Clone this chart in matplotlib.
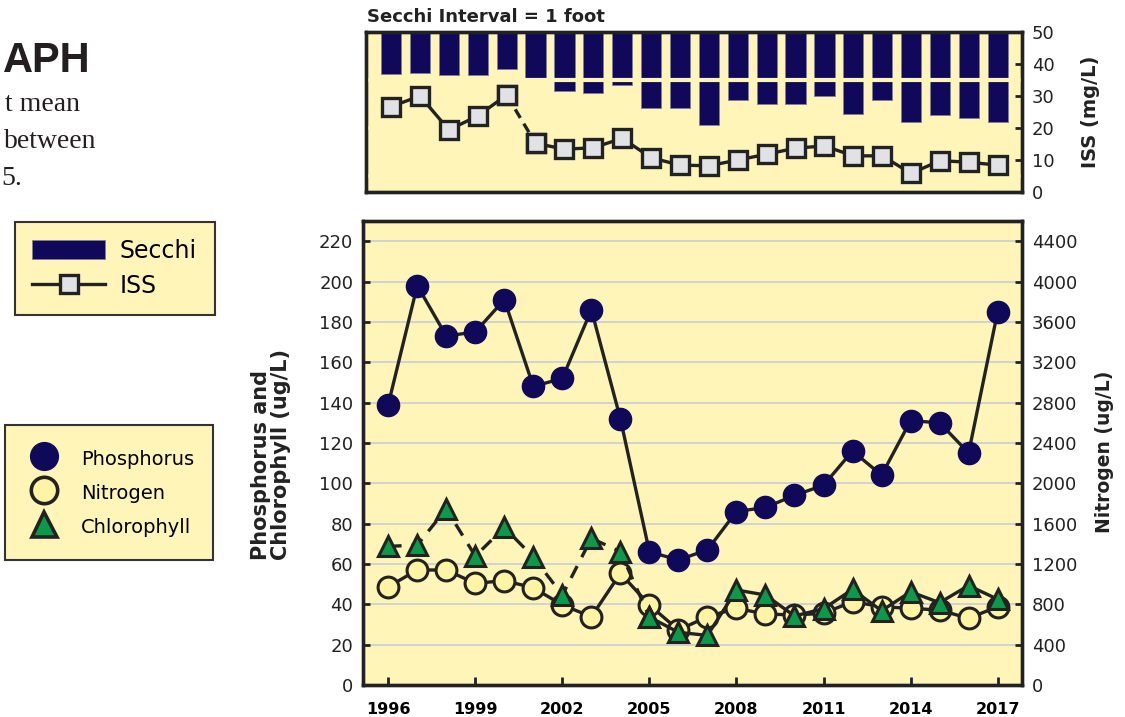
import numpy as np
import matplotlib.pyplot as plt
from matplotlib.lines import Line2D

# Datos
years = np.arange(1996, 2018)
secchi_ft = [0.88, 0.85, 0.90, 0.90, 0.77, 0.96, 1.23, 1.27, 1.10, 1.58, 1.58,
             1.94, 1.42, 1.50, 1.50, 1.33, 1.71, 1.42, 1.88, 1.73, 1.79, 1.88]
iss = [26.7, 30.0, 19.4, 23.8, 30.3, 15.2, 13.4, 13.8, 16.8, 10.7, 8.4,
       8.2, 10.0, 11.8, 13.7, 14.4, 11.3, 11.3, 5.8, 9.8, 9.3, 8.4]
phosphorus = [139, 198, 173, 175, 191, 148, 152, 186, 132, 66, 62,
              67, 86, 88, 94, 99, 116, 104, 131, 130, 115, 185]
nitrogen = [974, 1140, 1140, 1008, 1034, 964, 793, 677, 1107, 793, 545,
            677, 760, 704, 694, 711, 826, 776, 760, 743, 661, 776]
chlorophyll = [68.7, 69.4, 87.3, 63.9, 78.1, 63.4, 44.6, 72.7, 66.1, 33.7, 26.1,
               24.6, 47.1, 44.6, 34.2, 37.8, 47.4, 36.8, 46.2, 40.8, 49.3, 42.5]
xticks = [1996, 1999, 2002, 2005, 2008, 2011, 2014, 2017]

bg = '#fff5b8'
navy = '#10095a'
dark = '#222222'
green = '#0a9a4a'
sq_fill = '#e1e2e5'
n_fill = '#fff4a3'

W, H = 1125, 717
fig = plt.figure(figsize=(W / 100, H / 100), dpi=100)


def fx(px):
    return px / W


def fy(py):
    return 1 - py / H


# texto de la pagina (fragmentos visibles)
fig.text(fx(3), fy(72), 'APH', ha='left', va='baseline', fontsize=30,
         fontweight='bold', family=['Liberation Sans', 'DejaVu Sans'],
         color='#231f20')
serif = ['Liberation Serif', 'DejaVu Serif']
fig.text(fx(80), fy(111), 't mean', ha='right', va='baseline', fontsize=20,
         family=serif, color='#231f20')
fig.text(fx(96), fy(148), 'between', ha='right', va='baseline', fontsize=20,
         family=serif, color='#231f20')
fig.text(fx(1), fy(185), '5.', ha='left', va='baseline', fontsize=20,
         family=serif, color='#231f20')

# ---------- panel superior: Secchi + ISS ----------
ax_s = fig.add_axes([fx(366), fy(192), fx(1022 - 366), 160 / H])
ax_s.set_facecolor(bg)
bars = ax_s.bar(years, secchi_ft, width=0.7, color=navy, edgecolor='#7f7f9a',
                linewidth=0.6, zorder=2)
ax_s.set_ylim(10 / 3, 0)
ax_s.set_xlim(1995.13, 2017.84)
ax_s.hlines([1, 2, 3], 1995.13, 2017.84, color=bg, lw=3, zorder=3)
ax_s.set_yticks([1, 2, 3])
ax_s.set_yticklabels([])
ax_s.set_xticks([])
ax_s.tick_params(axis='y', direction='in', length=5, width=2, color=dark)

ax_i = ax_s.twinx()
ax_i.set_ylim(0, 50)
ax_i.set_yticks(range(0, 51, 10))
ax_i.tick_params(axis='y', direction='in', length=5, width=2, color=dark,
                 labelsize=13, pad=7, labelcolor='#222')
iss_style = dict(color=dark, lw=2.4, marker='s', ms=13, mfc=sq_fill,
                 mec=dark, mew=2.4)
iss_line, = ax_i.plot(years[:5], iss[:5], **iss_style)
ax_i.plot(years[4:6], iss[4:6], ls=(0, (3, 2)), **iss_style)
ax_i.plot(years[5:], iss[5:], **iss_style)
for ax in (ax_s, ax_i):
    for sp in ax.spines.values():
        sp.set_linewidth(2.4)
        sp.set_color(dark)

fig.text(fx(367), fy(17), 'Secchi Interval = 1 foot', ha='left', va='center',
         fontsize=13, fontweight='bold', color='#222')
fig.text(fx(1090), fy(112), 'ISS (mg/L)', rotation=90, ha='center',
         va='center', fontsize=14, fontweight='bold', color='#222')

# ---------- panel inferior ----------
ax_n = fig.add_axes([fx(363), fy(685), fx(1022 - 363), (685 - 221) / H])
ax_n.set_facecolor(bg)
ax_n.set_xlim(1995.13, 2017.84)
ax_n.set_ylim(0, 4600)
ax_n.set_yticks(range(0, 4401, 400))
ax_n.yaxis.grid(True, color='#c9ccd6', lw=1.2)
ax_n.set_axisbelow(True)
ax_n.plot(years, nitrogen, color=dark, lw=2.4, marker='o', ms=15,
          mfc=n_fill, mec=dark, mew=2.2, zorder=3)

ax_p = ax_n.twinx()
ax_p.set_ylim(0, 230)
ax_p.set_yticks(range(0, 221, 20))
ax_n.yaxis.tick_right()
ax_p.yaxis.tick_left()
ax_p.plot(years[:10], chlorophyll[:10], color=dark, lw=2.4, ls=(0, (4, 3)),
          marker='^', ms=14, mfc=green, mec=dark, mew=2.2, zorder=3)
ax_p.plot(years[9:], chlorophyll[9:], color=dark, lw=2.4,
          marker='^', ms=14, mfc=green, mec=dark, mew=2.2, zorder=3)
ax_p.plot(years, phosphorus, color=dark, lw=2.4, marker='o', ms=16,
          mfc=navy, mec=navy, mew=1, zorder=4)

ax_n.set_xticks(xticks)
ax_n.tick_params(axis='x', direction='in', length=6, width=2, color=dark,
                 labelsize=11.5, pad=12)
for lab in ax_n.get_xticklabels():
    lab.set_fontweight('bold')
for ax in (ax_n, ax_p):
    ax.tick_params(axis='y', direction='in', length=5, width=2, color=dark,
                   labelsize=13, pad=7, labelcolor='#222')
    for sp in ax.spines.values():
        sp.set_linewidth(2.4)
        sp.set_color(dark)

fig.text(fx(271), fy(560), 'Phosphorus and\nChlorophyll (ug/L)', rotation=90,
         ha='center', va='bottom', multialignment='left', fontsize=15,
         fontweight='bold', color='#222', linespacing=1.05)
fig.text(fx(1105), fy(452), 'Nitrogen (ug/L)', rotation=90, ha='center',
         va='center', fontsize=13.5, fontweight='bold', color='#222')

# ---------- leyendas ----------
leg1 = fig.legend([bars, iss_line], ['Secchi', 'ISS'], loc='upper left',
                  bbox_to_anchor=(fx(15), fy(222), fx(200), 0), mode='expand',
                  borderaxespad=0, fontsize=17, handlelength=3.1,
                  handleheight=0.85, handletextpad=0.6, labelspacing=0.45,
                  borderpad=0.72, fancybox=False, framealpha=1, facecolor=bg,
                  edgecolor='#333333', numpoints=1)
leg1.get_frame().set_linewidth(1.5)

h_p = Line2D([], [], ls='none', marker='o', ms=20, mfc=navy, mec=navy)
h_n = Line2D([], [], ls='none', marker='o', ms=19, mfc=n_fill, mec=dark, mew=2.6)
h_c = Line2D([], [], ls='none', marker='^', ms=18, mfc=green, mec=dark, mew=2.6)
leg2 = fig.legend([h_p, h_n, h_c], ['Phosphorus', 'Nitrogen', 'Chlorophyll'],
                  loc='upper left', bbox_to_anchor=(fx(5), fy(425), fx(208), 0),
                  mode='expand', borderaxespad=0, fontsize=14, handlelength=1.7,
                  handleheight=1.4, handletextpad=1.07, labelspacing=0.6,
                  borderpad=1.15, fancybox=False, framealpha=1, facecolor=bg,
                  edgecolor='#333333', numpoints=1)
leg2.get_frame().set_linewidth(1.5)

fig.savefig('out.png', dpi=100)
